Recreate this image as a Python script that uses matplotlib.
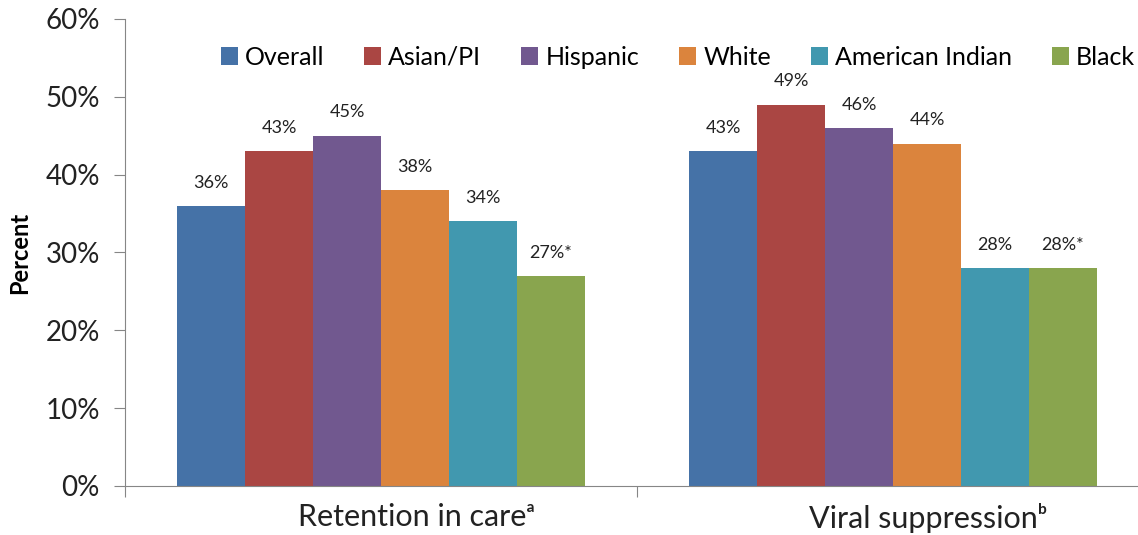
import numpy as np
import matplotlib.pyplot as plt
import matplotlib.transforms as mtransforms

plt.rcParams['font.family'] = ['Lato', 'DejaVu Sans']

categories = ['Retention in careᵃ', 'Viral suppressionᵇ']
groups = ['Overall', 'Asian/PI', 'Hispanic', 'White', 'American Indian', 'Black']
values = [[36, 43], [43, 49], [45, 46], [38, 44], [34, 28], [27, 28]]
labels = [['36%', '43%'], ['43%', '49%'], ['45%', '46%'], ['38%', '44%'],
          ['34%', '28%'], ['27%*', '28%*']]
colors = ['#4572A7', '#AA4643', '#71588F', '#DB843D', '#4198AF', '#89A54E']

fig = plt.figure(figsize=(11.38, 5.35), dpi=100)
ax = fig.add_axes([0.1098, 0.0916, 0.8999, 0.8729])

x = np.arange(len(categories))
w = 0.1328
for i, g in enumerate(groups):
	pos = x - 2.5 * w + i * w
	bars = ax.bar(pos, values[i], w, color=colors[i], label=g)
	for b, lab in zip(bars, labels[i]):
		ax.annotate(lab, (b.get_x() + b.get_width() / 2, b.get_height()),
			xytext=(0, 11), textcoords='offset points', ha='center', va='bottom',
			fontsize=13, color='#222222')

ax.set_xlim(-0.5, 1.5)
ax.set_ylim(0, 60)
ax.set_yticks(np.arange(0, 61, 10))
ax.set_yticklabels(['%d%%' % v for v in range(0, 61, 10)], fontsize=20, color='#222222')
ax.set_ylabel('Percent', fontsize=17, fontweight='bold', labelpad=10)

ax.set_xticks([-0.5, 0.5, 1.5])
ax.set_xticklabels([])
ax.set_xticks(x, minor=True)
ax.set_xticklabels(categories, minor=True, fontsize=22, color='#222222')
ax.tick_params(axis='x', which='minor', length=0, pad=12)
ax.tick_params(axis='x', which='major', length=8, color='#868686', direction='out')
ax.tick_params(axis='y', length=8, color='#868686', direction='out', pad=10)

# category labels sit a little right of the group centre in the original
shift = mtransforms.ScaledTranslation(0.35, 0, fig.dpi_scale_trans)
for t in ax.get_xticklabels(minor=True):
	t.set_transform(t.get_transform() + shift)

for s in ['top', 'right']:
	ax.spines[s].set_visible(False)
for s in ['left', 'bottom']:
	ax.spines[s].set_color('#868686')

ax.legend(loc='center', bbox_to_anchor=(0.54, 0.918), ncol=6, frameon=False,
	fontsize=18, handlelength=0.68, handleheight=0.68, handletextpad=0.28,
	columnspacing=1.6)

plt.savefig('out.png', dpi=100)
